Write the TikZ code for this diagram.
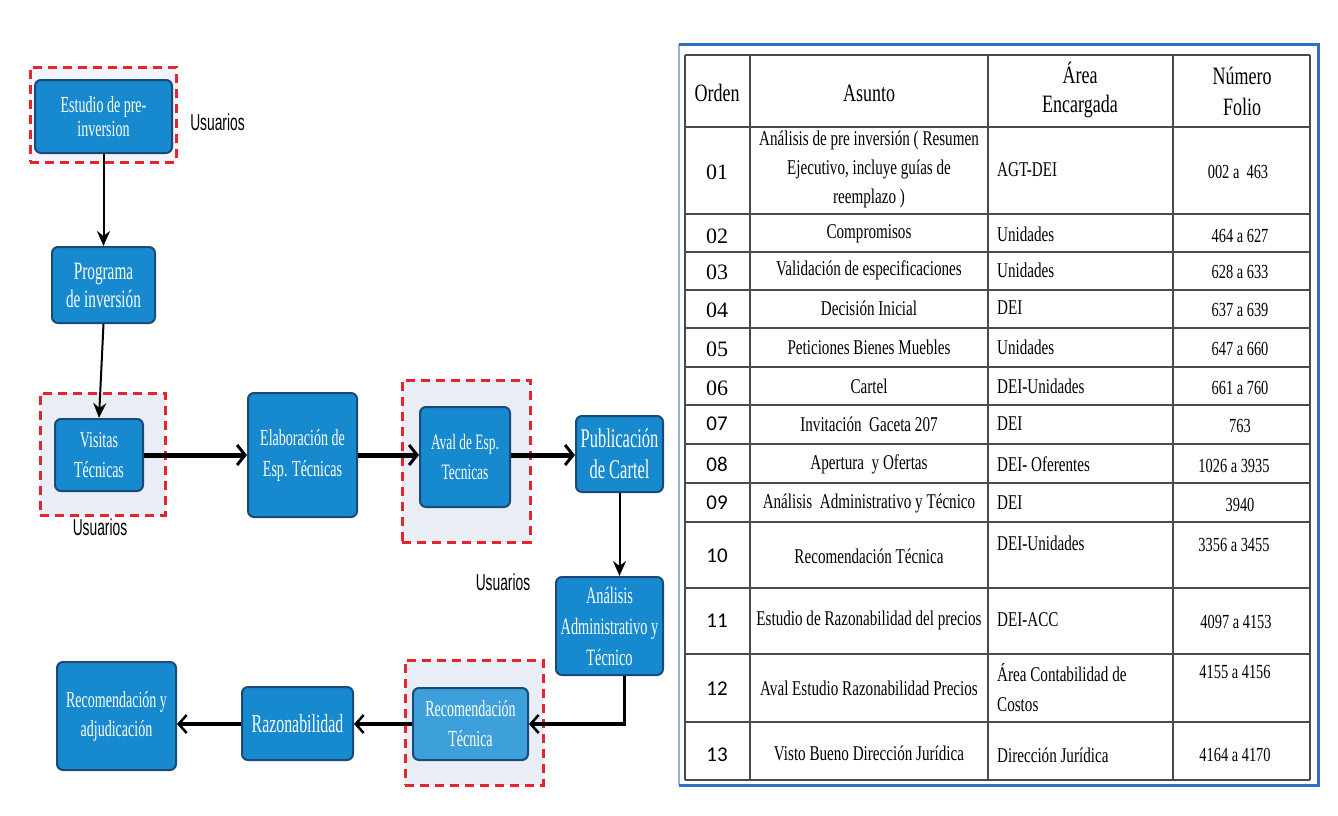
\documentclass[tikz,border=0pt]{standalone}
\usepackage{fontspec}
\setmainfont{Liberation Serif}
\newfontfamily\bxf{Liberation Serif}[FakeStretch=0.61]
\newfontfamily\tbf{Liberation Serif}[FakeStretch=0.72]
\newfontfamily\usf{Liberation Sans}[FakeStretch=0.6]
\newfontfamily\calib{Carlito}
\usetikzlibrary{arrows.meta,calc}
\definecolor{boxblue}{HTML}{1689CF}
\definecolor{boxedge}{HTML}{1B4A78}
\definecolor{boxlight}{HTML}{3DA0DA}
\definecolor{dashred}{HTML}{E5252D}
\definecolor{zonefill}{HTML}{E8EDF6}
\definecolor{zonefillb}{HTML}{F2F4F9}
\definecolor{framblue}{HTML}{2B72C2}
\definecolor{framlight}{HTML}{8FB4E0}
\definecolor{gridgray}{HTML}{4A4A4A}
\begin{document}
\begin{tikzpicture}[x=1pt,y=-1pt,
  fbox/.style={draw=boxedge, line width=2pt, fill=boxblue, rounded corners=6pt,
    text=white, align=center, font=\bxf\fontsize{22}{30}\selectfont, inner sep=0pt},
  zone/.style={draw=dashred, line width=3pt, dash pattern=on 9pt off 6pt, fill=zonefill, inner sep=0pt},
  thinarrow/.style={draw=black, line width=2pt, -{Stealth[length=15pt,width=13pt,inset=5pt]}},
  thickarrow/.style={draw=black, line width=5pt, -{Straight Barb[length=8pt,width=20pt,line width=3pt]}},
  midarrow/.style={draw=black, line width=3.5pt, -{Straight Barb[length=8pt,width=18pt,line width=2.5pt]}},
  usu/.style={font=\usf\fontsize{23}{24}\selectfont, inner sep=0pt},
  grid/.style={draw=gridgray, line width=1.5pt},
  hd/.style={font=\tbf\fontsize{25}{30}\selectfont, align=center, inner sep=0pt},
  cell/.style={font=\tbf\fontsize{21}{29}\selectfont, align=center, inner sep=0pt},
  ordA/.style={font=\fontsize{22}{22}\selectfont, inner sep=0pt},
  ordB/.style={font=\calib\fontsize{21}{22}\selectfont, inner sep=0pt},
  areac/.style={font=\tbf\fontsize{21}{30}\selectfont, align=left, anchor=west, inner sep=0pt},
  numc/.style={font=\tbf\fontsize{20}{22}\selectfont, inner sep=0pt}
]
\useasboundingbox[fill=white] (0,0) rectangle (1338,815);

% ---------- zones ----------
\node[zone, fill=zonefillb, minimum width=146pt, minimum height=95pt] (z1) at (103,114.5) {};
\node[zone, minimum width=125pt, minimum height=122pt] (z2) at (102.5,454) {};
\node[zone, minimum width=128pt, minimum height=162pt] (z3) at (466,461) {};
\node[zone, minimum width=138pt, minimum height=125pt] (z4) at (474,722.5) {};

% ---------- boxes ----------
\node[fbox, minimum width=137pt, minimum height=73pt, font=\bxf\fontsize{23}{24}\selectfont] (est) at (103.5,116.5) {Estudio de pre-\\inversion};
\node[fbox, minimum width=103pt, minimum height=76pt, font=\bxf\fontsize{25}{28}\selectfont] (prog) at (103.5,285) {Programa\\de inversión};
\node[fbox, minimum width=88pt, minimum height=72pt, font=\bxf\fontsize{23}{30}\selectfont] (vis) at (99,455) {Visitas\\Técnicas};
\node[fbox, minimum width=109pt, minimum height=124pt, font=\bxf\fontsize{23}{31}\selectfont] (elab) at (302.5,455) {Elaboración de\\Esp. Técnicas};
\node[fbox, minimum width=90pt, minimum height=100pt, font=\bxf\fontsize{22}{30}\selectfont] (aval) at (465,457) {Aval de Esp.\\Tecnicas};
\node[fbox, minimum width=87pt, minimum height=76pt, font=\bxf\fontsize{27}{31}\selectfont] (pub) at (619.5,454) {Publicación\\de Cartel};
\node[fbox, minimum width=107pt, minimum height=98pt, font=\bxf\fontsize{23.5}{31}\selectfont] (anal) at (609.5,626) {Análisis\\Administrativo y\\Técnico};
\node[fbox, fill=boxlight, minimum width=115pt, minimum height=72pt, font=\bxf\fontsize{23}{30}\selectfont] (rect) at (470.5,724) {Recomendación\\Técnica};
\node[fbox, minimum width=111pt, minimum height=73pt, font=\bxf\fontsize{26}{30}\selectfont] (raz) at (297.5,723.5) {Razonabilidad};
\node[fbox, minimum width=119pt, minimum height=108pt, font=\bxf\fontsize{23}{29}\selectfont] (radj) at (116.5,716) {Recomendación y\\adjudicación};

% ---------- labels ----------
\node[usu] (u1) at (217.5,122) {Usuarios};
\node[usu] (u2) at (100,527) {Usuarios};
\node[usu] (u3) at (503,582) {Usuarios};

% ---------- connectors ----------
\draw[thinarrow] (est.south) -- (prog.north);
\draw[thinarrow] (prog.south) -- (vis.north);
\draw[thickarrow] (vis.east) -- (vis.east -| elab.west);
\draw[thickarrow] (vis.east -| elab.east) -- (vis.east -| aval.west);
\draw[thickarrow] (vis.east -| aval.east) -- (vis.east -| pub.west);
\draw[thinarrow] (pub.south) -- (pub.south |- anal.north);
\draw[midarrow] ([xshift=15pt]anal.south) |- (rect.east);
\draw[midarrow] (rect.west) -- (rect.west -| raz.east);
\draw[midarrow] (rect.west -| raz.west) -- (rect.west -| radj.east);

% ---------- table ----------
\draw[draw=framlight, line width=2pt] (679,44) -- (679,785);
\draw[draw=framblue, line width=3pt] (679,44) -- (1318,44) -- (1318,785) -- (679,785);
\foreach \yy in {55,127,214,252,290,328,367,405,444,483,522,588,654,722,780}
  \draw[grid] (685,\yy) -- (1310,\yy);
\foreach \xx in {685,750,988,1173,1310}
  \draw[grid] (\xx,55) -- (\xx,780);

\node[hd] (h1) at (717,93) {Orden};
\node[hd] (h2) at (869,93) {Asunto};
\node[hd, font=\tbf\fontsize{25}{29}\selectfont] (h3) at (1080,90) {Área\\Encargada};
\node[hd, font=\tbf\fontsize{25}{31}\selectfont] (h4) at (1242,91) {Número\\Folio};

% row 01
\node[ordA] (o1) at (717,172) {01};
\node[cell] (a1) at (869,169) {Análisis de pre inversión ( Resumen\\Ejecutivo, incluye guías de\\reemplazo )};
\node[areac] (e1) at (997,170) {AGT-DEI};
\node[numc] (n1) at (1238,172) {002 a\ \ 463};
% rows 02-09
\node[ordA] (o2) at (717,236) {02};
\node[cell] (a2) at (869,234) {Compromisos};
\node[areac] (e2) at (997,234) {Unidades};
\node[numc] (n2) at (1240,236) {464 a 627};

\node[ordA] (o3) at (717,272) {03};
\node[cell] (a3) at (869,270) {Validación de especificaciones};
\node[areac] (e3) at (997,270) {Unidades};
\node[numc] (n3) at (1240,272) {628 a 633};

\node[ordA] (o4) at (717,310) {04};
\node[cell] (a4) at (869,308) {Decisión Inicial};
\node[areac] (e4) at (997,308) {DEI};
\node[numc] (n4) at (1240,310) {637 a 639};

\node[ordA] (o5) at (717,349) {05};
\node[cell] (a5) at (869,347) {Peticiones Bienes Muebles};
\node[areac] (e5) at (997,347) {Unidades};
\node[numc] (n5) at (1240,349) {647 a 660};

\node[ordA] (o6) at (717,388) {06};
\node[cell] (a6) at (869,386) {Cartel};
\node[areac] (e6) at (997,386) {DEI-Unidades};
\node[numc] (n6) at (1240,388) {661 a 760};

\node[ordB] (o7) at (717,424) {07};
\node[cell] (a7) at (869,424) {Invitación\ \ Gaceta 207};
\node[areac] (e7) at (997,424) {DEI};
\node[numc] (n7) at (1240,426) {763};

\node[ordB] (o8) at (717,464) {08};
\node[cell] (a8) at (869,464) {Apertura\ \ y Ofertas};
\node[areac] (e8) at (997,464) {DEI- Oferentes};
\node[numc] (n8) at (1234,466) {1026 a 3935};

\node[ordB] (o9) at (717,503) {09};
\node[cell] (a9) at (869,503) {Análisis\ \ Administrativo y Técnico};
\node[areac] (e9) at (997,503) {DEI};
\node[numc] (n9) at (1240,505) {3940};

% row 10
\node[ordB] (o10) at (717,556) {10};
\node[cell] (a10) at (869,556) {Recomendación Técnica};
\node[areac] (e10) at (997,543) {DEI-Unidades};
\node[numc] (n10) at (1234,545) {3356 a 3455};

% row 11
\node[ordB] (o11) at (717,621) {11};
\node[cell] (a11) at (869,620) {Estudio de Razonabilidad del precios};
\node[areac] (e11) at (997,620) {DEI-ACC};
\node[numc] (n11) at (1236,622) {4097 a 4153};

% row 12
\node[ordB] (o12) at (717,689) {12};
\node[cell] (a12) at (869,688) {Aval Estudio Razonabilidad Precios};
\node[areac] (e12) at (997,688) {Área Contabilidad de\\Costos};
\node[numc] (n12) at (1235,672) {4155 a 4156};

% row 13
\node[ordB] (o13) at (717,755) {13};
\node[cell] (a13) at (869,753) {Visto Bueno Dirección Jurídica};
\node[areac] (e13) at (997,755) {Dirección Jurídica};
\node[numc] (n13) at (1235,755) {4164 a 4170};
\end{tikzpicture}
\end{document}
